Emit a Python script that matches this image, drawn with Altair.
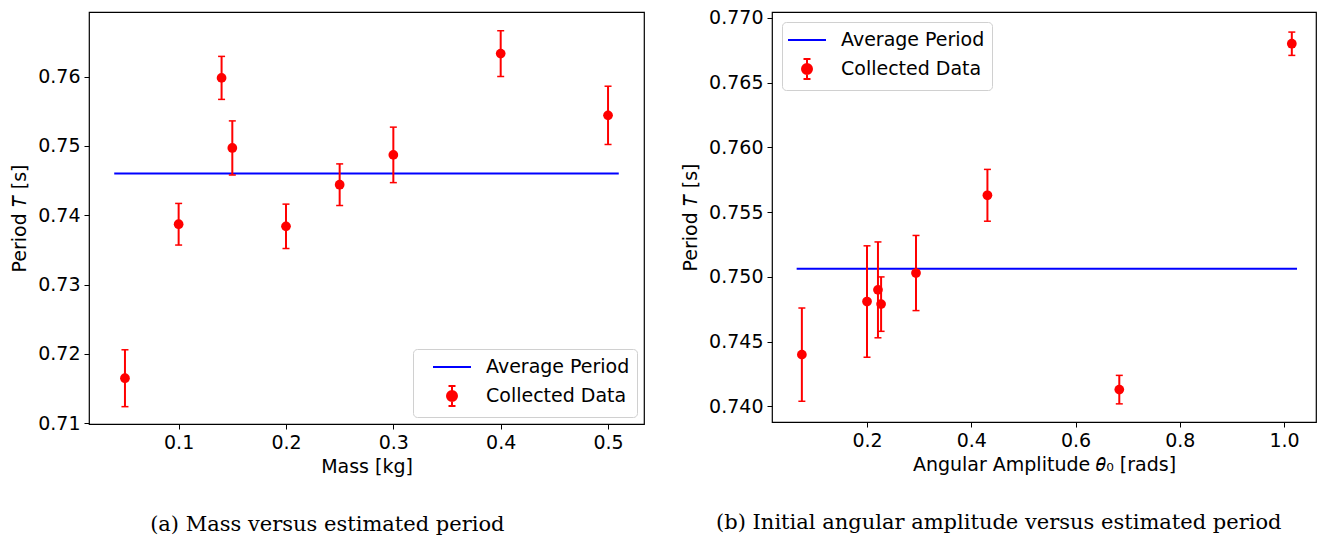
import altair as alt
import pandas as pd

# ---------------- Panel (a): mass vs period ----------------
mass = [0.05, 0.10, 0.14, 0.15, 0.20, 0.25, 0.30, 0.40, 0.50]
mass_period = [0.7165, 0.7387, 0.7598, 0.7497, 0.7384, 0.7444, 0.7487, 0.7633, 0.7544]
mass_err = [0.0041, 0.0030, 0.0031, 0.0039, 0.0032, 0.0030, 0.0040, 0.0033, 0.0042]
mass_avg = 0.7460
mass_line_x = [0.04, 0.51]

# ---------------- Panel (b): amplitude vs period ----------------
amp = [0.075, 0.200, 0.221, 0.227, 0.294, 0.431, 0.684, 1.015]
amp_period = [0.7440, 0.7481, 0.7490, 0.7479, 0.7503, 0.7563, 0.7413, 0.7680]
amp_err = [0.0036, 0.0043, 0.0037, 0.0021, 0.0029, 0.0020, 0.0011, 0.0009]
amp_avg = 0.75063
amp_line_x = [0.065, 1.025]

series_names = ["Average Period", "Collected Data"]

RED = "#ff0000"
BLUE = "#0000ff"
LINE_PATH = "M-1.9,0L1.9,0"
ERR_PATH = ("M-0.35,-1L0.35,-1M0,-1L0,1M-0.35,1L0.35,1"
            "M0.5,0A0.5,0.5,0,1,1,-0.5,0A0.5,0.5,0,1,1,0.5,0Z")


def panel(xs, ys, errs, avg, line_x, xdomain, ydomain, xticks, yticks,
          xfmt, yfmt, xtitle, ytitle, caption, width, height,
          legend_orient, legend_offset, sym_offset, lab_offset):
    pts = pd.DataFrame({
        "x": xs,
        "y": ys,
        "lo": [y - e for y, e in zip(ys, errs)],
        "hi": [y + e for y, e in zip(ys, errs)],
    })
    line = pd.DataFrame({"x": line_x, "y": [avg] * len(line_x)})
    leg = pd.DataFrame({"series": series_names})

    xs_ = alt.Scale(domain=xdomain, nice=False, zero=False)
    ys_ = alt.Scale(domain=ydomain, nice=False, zero=False)
    xaxis = alt.Axis(values=xticks, format=xfmt, title=xtitle, labelPadding=4,
                     titlePadding=5)
    yaxis = alt.Axis(values=yticks, format=yfmt, title=ytitle, labelPadding=4,
                     titlePadding=8)

    def X(f):
        return alt.X(f + ":Q", scale=xs_, axis=xaxis)

    def Y(f):
        return alt.Y(f + ":Q", scale=ys_, axis=yaxis)

    line_layer = alt.Chart(line).mark_line(color=BLUE, strokeWidth=2).encode(
        x=X("x"), y=Y("y"))
    bars = alt.Chart(pts).mark_rule(color=RED, strokeWidth=2).encode(
        x=X("x"), y=Y("lo"), y2="hi:Q")
    cap_lo = alt.Chart(pts).mark_tick(color=RED, orient="horizontal", size=7,
                                      thickness=1.5, opacity=1).encode(
        x=X("x"), y=Y("lo"))
    cap_hi = alt.Chart(pts).mark_tick(color=RED, orient="horizontal", size=7,
                                      thickness=1.5, opacity=1).encode(
        x=X("x"), y=Y("hi"))
    dots = alt.Chart(pts).mark_circle(color=RED, size=95, opacity=1).encode(
        x=X("x"), y=Y("y"))

    legend = alt.Legend(
        title=None, orient=legend_orient, offset=legend_offset,
        labelFontSize=19, labelFont="DejaVu Sans", labelColor="black",
        fillColor="white", strokeColor="#d0d0d0", cornerRadius=4,
        padding=7, symbolSize=400, symbolStrokeWidth=2, symbolOpacity=1,
        rowPadding=5, labelOffset=lab_offset, symbolOffset=sym_offset,
    )
    fill_scale = alt.Scale(domain=series_names, range=[BLUE, RED])
    shape_scale = alt.Scale(domain=series_names, range=[LINE_PATH, ERR_PATH])
    leg_layer = alt.Chart(leg).mark_point(filled=True, opacity=0).encode(
        fill=alt.Fill("series:N", scale=fill_scale, legend=legend),
        stroke=alt.Stroke("series:N", scale=fill_scale, legend=legend),
        shape=alt.Shape("series:N", scale=shape_scale, legend=legend),
    )

    return alt.layer(line_layer, bars, cap_lo, cap_hi, dots, leg_layer).properties(
        width=width, height=height,
        title=alt.Title(caption, orient="bottom", anchor="middle", frame="bounds",
                        font="DejaVu Serif", fontSize=21,
                        fontWeight="normal", color="black", offset=38),
    )


left = panel(mass, mass_period, mass_err, mass_avg, mass_line_x,
             [0.0165, 0.5335], [0.7099, 0.7693],
             [0.1, 0.2, 0.3, 0.4, 0.5], [0.71, 0.72, 0.73, 0.74, 0.75, 0.76],
             ".1f", ".2f", "Mass [kg]", "Period 𝑇 [s]",
             "(a) Mass versus estimated period", 555, 412,
             "bottom-right", 7, 21, 23)

right = panel(amp, amp_period, amp_err, amp_avg, amp_line_x,
              [0.0177, 1.0614], [0.7388, 0.77045],
              [0.2, 0.4, 0.6, 0.8, 1.0],
              [0.740, 0.745, 0.750, 0.755, 0.760, 0.765, 0.770],
              ".1f", ".3f", "Angular Amplitude 𝜃₀ [rads]", "Period 𝑇 [s]",
              "(b) Initial angular amplitude versus estimated period", 544, 410,
              "top-left", 10, 7, 23)

chart = alt.hconcat(left, right, spacing=128, bounds="flush").resolve_scale(
    x="independent", y="independent", fill="independent",
    stroke="independent", shape="independent",
).resolve_legend(fill="independent", stroke="independent", shape="independent"
).properties(
    padding={"left": 10, "right": 0, "top": 8, "bottom": 0},
    background="white",
).configure_view(
    stroke="black", strokeWidth=1.2,
).configure_axis(
    labelFont="DejaVu Sans", labelFontSize=19, labelColor="black",
    titleFont="DejaVu Sans", titleFontSize=19, titleColor="black",
    titleFontWeight="normal", tickColor="black", tickSize=5, tickWidth=1,
    grid=False, domain=False,
)

chart.save("out.html", embed_options={"renderer": "svg", "actions": False})
